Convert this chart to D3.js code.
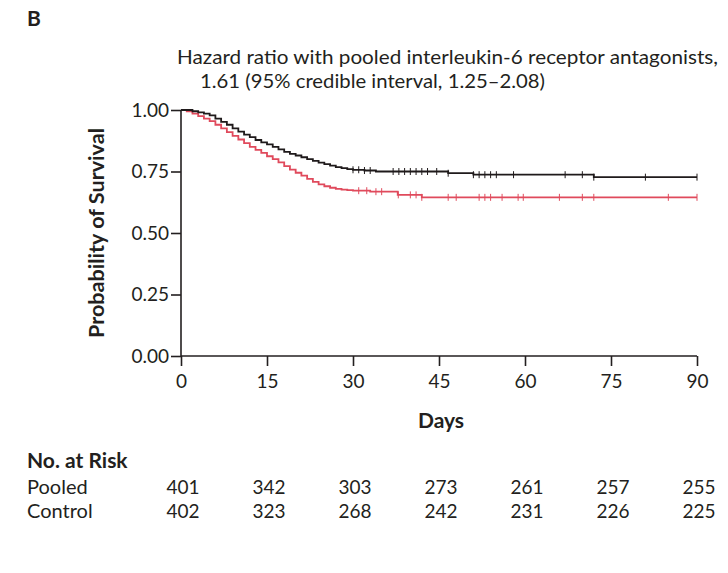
<!DOCTYPE html>
<html>
<head>
<meta charset="utf-8">
<script src="https://cdn.jsdelivr.net/npm/d3@7"></script>
<style>
  body { margin: 0; background: #fff; }
  svg text { font-family: "Lato", sans-serif; fill: #231f20; }
</style>
</head>
<body>
<div id="chart"></div>
<script>
// Kaplan-Meier step points
const pooledDays = [0, 1, 2, 3, 4, 5, 6, 7, 8, 9, 10, 11, 12, 13, 14, 15, 16, 17, 18, 19, 20, 21, 22, 23, 24, 25, 26, 27, 28, 29, 30, 32, 34, 46.6, 51, 72, 90];
const pooledSurv = [1, 1, 0.995, 0.99, 0.985, 0.978, 0.965, 0.952, 0.94, 0.925, 0.912, 0.9, 0.89, 0.878, 0.868, 0.86, 0.85, 0.84, 0.83, 0.822, 0.815, 0.808, 0.8, 0.793, 0.786, 0.78, 0.774, 0.768, 0.764, 0.76, 0.757, 0.754, 0.75, 0.743, 0.737, 0.727, 0.727];
const controlDays = [0, 1, 2, 3, 4, 5, 6, 7, 8, 9, 10, 11, 12, 13, 14, 15, 16, 17, 18, 19, 20, 21, 22, 23, 24, 25, 26, 27, 28, 29, 30, 33, 37.8, 42, 90];
const controlSurv = [1, 0.995, 0.985, 0.975, 0.965, 0.955, 0.94, 0.925, 0.91, 0.895, 0.88, 0.865, 0.85, 0.838, 0.826, 0.812, 0.8, 0.787, 0.772, 0.758, 0.745, 0.733, 0.72, 0.708, 0.698, 0.69, 0.684, 0.679, 0.676, 0.674, 0.672, 0.668, 0.655, 0.645, 0.645];

// censor marks (days)
const pooledCensor = [30, 31, 32, 33, 37, 38, 39, 40, 41, 42, 43, 44.6, 46.6, 51, 52, 53, 54, 55, 58, 67, 70, 72, 81, 90];
const controlCensor = [31, 32.4, 34, 35, 37.9, 40, 41, 42, 46.6, 48, 52, 53, 54, 56, 58.8, 59.7, 66, 70, 72, 85, 90];

const xTicks = [0, 15, 30, 45, 60, 75, 90];
const yTicks = [0, 0.25, 0.5, 0.75, 1];
const riskGroups = ["Pooled", "Control"];
const pooledRisk = [401, 342, 303, 273, 261, 257, 255];
const controlRisk = [402, 323, 268, 242, 231, 226, 225];

const svgWidth = 728;
const svgHeight = 573;
const margin = {top: 110, left: 181, right: 31, bottom: 217};
const width = svgWidth - margin.left - margin.right;
const height = svgHeight - margin.top - margin.bottom;

const svg = d3.select("#chart")
  .append("svg")
  .attr("width", svgWidth)
  .attr("height", svgHeight);

const chartGroup = svg.append("g")
  .attr("transform", `translate(${margin.left}, ${margin.top})`);

const x = d3.scaleLinear().domain([0, 90]).range([0, width]);
const y = d3.scaleLinear().domain([0, 1]).range([height, 0]);

// Axes
const xAxis = d3.axisBottom(x).tickValues(xTicks).tickSize(10).tickPadding(9);
const yAxis = d3.axisLeft(y).tickValues(yTicks).tickSize(10).tickPadding(2)
  .tickFormat(d3.format(".2f"));

const xg = chartGroup.append("g")
  .attr("transform", `translate(0, ${height})`)
  .call(xAxis);
const yg = chartGroup.append("g").call(yAxis);

[xg, yg].forEach(g => {
  g.select(".domain").attr("stroke", "#231f20").attr("stroke-width", 1.6);
  g.selectAll(".tick line").attr("stroke", "#231f20").attr("stroke-width", 1.6);
  g.selectAll(".tick text").attr("font-size", 19).attr("fill", "#231f20");
});
xg.select(".domain").attr("d", `M0,0H${width}`);
yg.select(".domain").attr("d", `M0,${height}V0`);

// Axis titles
chartGroup.append("text")
  .attr("transform", "rotate(-90)")
  .attr("x", -height / 2)
  .attr("y", -77)
  .attr("text-anchor", "middle")
  .attr("font-size", 20)
  .attr("font-weight", "bold")
  .attr("textLength", 210).attr("lengthAdjust", "spacingAndGlyphs")
  .text("Probability of Survival");

chartGroup.append("text")
  .attr("x", width / 2 + 2)
  .attr("y", height + 72)
  .attr("text-anchor", "middle")
  .attr("font-size", 21)
  .attr("font-weight", "bold")
  .text("Days");

// Curves
const line = d3.line()
  .x(d => x(d[0]))
  .y(d => y(d[1]))
  .curve(d3.curveStepAfter);

const series = [
  {days: pooledDays, surv: pooledSurv, censor: pooledCensor, color: "#1f1a1b"},
  {days: controlDays, surv: controlSurv, censor: controlCensor, color: "#e04a5c"}
];

series.slice().reverse().forEach(s => {
  const pts = s.days.map((d, i) => [d, s.surv[i]]);
  chartGroup.append("path")
    .datum(pts)
    .attr("fill", "none")
    .attr("stroke", s.color)
    .attr("stroke-width", 1.8)
    .attr("d", line);

  // survival at a censor time
  const survAt = t => {
    const i = d3.bisectRight(s.days, t) - 1;
    return s.surv[Math.max(0, i)];
  };
  chartGroup.selectAll(null)
    .data(s.censor)
    .enter()
    .append("line")
    .attr("x1", d => x(d))
    .attr("x2", d => x(d))
    .attr("y1", d => y(survAt(d)) - 3.5)
    .attr("y2", d => y(survAt(d)) + 3.5)
    .attr("stroke", s.color)
    .attr("stroke-width", 1);
});

// Panel letter and annotation
svg.append("text")
  .attr("x", 27).attr("y", 26)
  .attr("font-size", 21).attr("font-weight", "bold")
  .text("B");

svg.append("text")
  .attr("x", 177).attr("y", 64)
  .attr("font-size", 19)
  .attr("textLength", 541).attr("lengthAdjust", "spacingAndGlyphs")
  .text("Hazard ratio with pooled interleukin-6 receptor antagonists,");

svg.append("text")
  .attr("x", 200).attr("y", 88)
  .attr("font-size", 19)
  .attr("textLength", 345).attr("lengthAdjust", "spacingAndGlyphs")
  .text("1.61 (95% credible interval, 1.25\u20132.08)");

// Number at risk table
svg.append("text")
  .attr("x", 27).attr("y", 468)
  .attr("font-size", 21).attr("font-weight", "bold")
  .text("No. at Risk");

const riskRows = [pooledRisk, controlRisk];
riskRows.forEach((row, r) => {
  const rowY = 494 + r * 24;
  svg.append("text")
    .attr("x", 27).attr("y", rowY)
    .attr("font-size", 20)
    .text(riskGroups[r]);
  svg.selectAll(null)
    .data(row)
    .enter()
    .append("text")
    .attr("x", (d, i) => margin.left + x(xTicks[i]) + 2)
    .attr("y", rowY)
    .attr("text-anchor", "middle")
    .attr("font-size", 19)
    .text(d => d);
});
</script>
</body>
</html>
